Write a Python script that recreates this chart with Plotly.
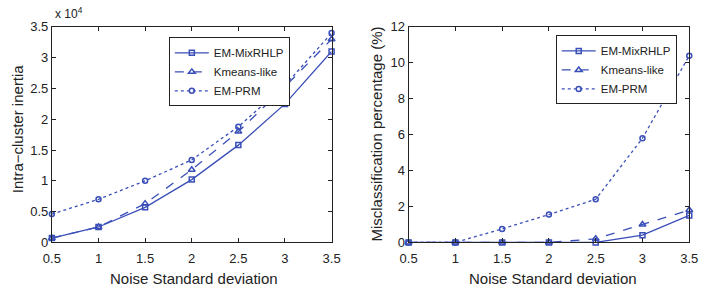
import plotly.graph_objects as go

noise_sd = [0.5, 1.0, 1.5, 2.0, 2.5, 3.0, 3.5]
series_names = ["EM-MixRHLP", "Kmeans-like", "EM-PRM"]

inertia_mixrhlp = [700, 2500, 5700, 10200, 15800, 22500, 31000]
inertia_kmeans = [700, 2500, 6300, 11800, 18000, 25300, 33000]
inertia_prm = [4600, 7000, 10000, 13400, 18800, 25500, 34000]

miscl_mixrhlp = [0, 0, 0, 0, 0, 0.4, 1.5]
miscl_kmeans = [0, 0, 0, 0, 0.2, 1.0, 1.8]
miscl_prm = [0, 0, 0.75, 1.55, 2.4, 5.8, 10.4]

x_ticks = [0.5, 1, 1.5, 2, 2.5, 3, 3.5]
x_ticktext = ["0.5", "1", "1.5", "2", "2.5", "3", "3.5"]
left_yticks = [0, 5000, 10000, 15000, 20000, 25000, 30000, 35000]
left_yticktext = ["0", "0.5", "1", "1.5", "2", "2.5", "3", "3.5"]
right_yticks = [0, 2, 4, 6, 8, 10, 12]

BLUE = "#3a4fb8"
DARK = "#222222"
FONT = "Liberation Sans, Arial, sans-serif"
styles = [("solid", "square-open", 5), ("dash", "triangle-up-open", 6), ("dot", "circle-open", 5)]

fig = go.Figure()
left_data = [inertia_mixrhlp, inertia_kmeans, inertia_prm]
right_data = [miscl_mixrhlp, miscl_kmeans, miscl_prm]
for axes, leg, datasets in [(("x", "y"), "legend", left_data), (("x2", "y2"), "legend2", right_data)]:
    for name, ys, (dash, sym, msize) in zip(series_names, datasets, styles):
        fig.add_trace(go.Scatter(
            x=noise_sd, y=ys, name=name, mode="lines+markers",
            line=dict(color=BLUE, width=1.3, dash=dash),
            marker=dict(symbol=sym, size=msize, color=BLUE, line=dict(color=BLUE, width=1.5)),
            xaxis=axes[0], yaxis=axes[1], legend=leg, cliponaxis=False))

axis_common = dict(showgrid=False, zeroline=False, showline=True, linecolor=DARK,
                   linewidth=1, mirror="ticks", ticks="inside", ticklen=4,
                   tickcolor=DARK, tickfont=dict(size=13, color=DARK, family=FONT))

legend_common = dict(xanchor="left", yanchor="top", bgcolor="white", bordercolor=DARK,
                     borderwidth=1, font=dict(size=11.5, family=FONT, color=DARK),
                     tracegroupgap=0, itemwidth=34)

fig.update_layout(
    width=708, height=295,
    margin=dict(l=0, r=0, t=0, b=0),
    paper_bgcolor="white", plot_bgcolor="white",
    font=dict(family=FONT, color=DARK),
    xaxis=dict(domain=[44 / 708, 331 / 708], range=[0.5, 3.5], tickvals=x_ticks,
               ticktext=x_ticktext, anchor="y", ticklabelstandoff=4, **axis_common),
    yaxis=dict(domain=[1 - 248 / 295, 1 - 21 / 295], range=[0, 35000], tickvals=left_yticks,
               ticktext=left_yticktext, anchor="x", **axis_common),
    xaxis2=dict(domain=[410 / 708, 698 / 708], range=[0.5, 3.5], tickvals=x_ticks,
                ticktext=x_ticktext, anchor="y2", ticklabelstandoff=4, **axis_common),
    yaxis2=dict(domain=[1 - 248 / 295, 1 - 21 / 295], range=[0, 12], tickvals=right_yticks,
                anchor="x2", **axis_common),
    legend=dict(x=164 / 708, y=1 - 32 / 295, **legend_common),
    legend2=dict(x=561 / 708, y=1 - 30 / 295, **legend_common),
    showlegend=True,
)

def add_text(text, x, y, size, angle=0, xanchor="center", yanchor="middle"):
    fig.add_annotation(text=text, xref="paper", yref="paper", x=x / 708, y=1 - y / 295,
                       xanchor=xanchor, yanchor=yanchor, showarrow=False, textangle=angle,
                       font=dict(size=size, family=FONT, color=DARK))

add_text("Noise Standard deviation", 190, 286, 15)
add_text("Noise Standard deviation", 558, 286, 15)
add_text("Intra\u2212cluster inertia", 9, 128, 15, angle=-90)
add_text("Misclassification percentage (%)", 377, 134, 15, angle=-90)
add_text("x 10<sup>4</sup>", 45, 17, 12, xanchor="left", yanchor="bottom")

fig.write_html("out.html", config={"displayModeBar": False},
               post_script="document.body.style.margin='0';")
